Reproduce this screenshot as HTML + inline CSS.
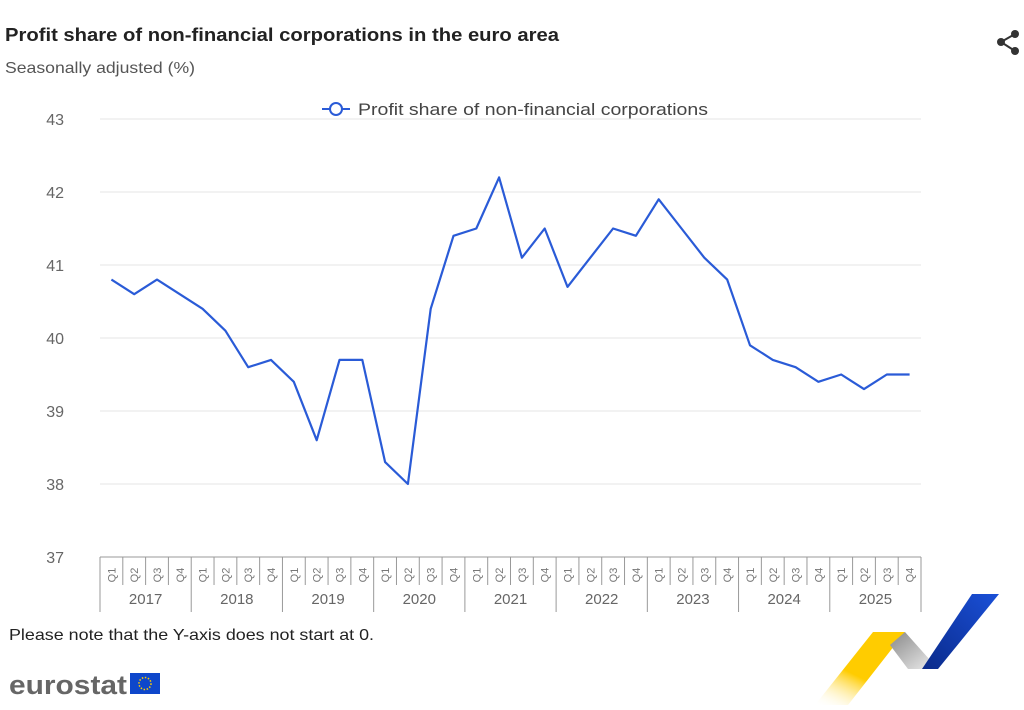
<!DOCTYPE html>
<html><head><meta charset="utf-8"><style>
body{margin:0;background:#fff;width:1024px;height:705px;overflow:hidden;font-family:"Liberation Sans",sans-serif}
</style></head><body>
<svg id="s" width="1024" height="705" xmlns="http://www.w3.org/2000/svg" font-family="Liberation Sans, sans-serif">
<defs>
<linearGradient id="gy" x1="0" y1="1" x2="0.6" y2="0"><stop offset="0" stop-color="#fff" stop-opacity="0"/><stop offset="0.5" stop-color="#ffcc00"/><stop offset="1" stop-color="#ffcc00"/></linearGradient>
<linearGradient id="gg" x1="0" y1="0" x2="1" y2="1"><stop offset="0" stop-color="#888"/><stop offset="1" stop-color="#f0f0f0"/></linearGradient>
<linearGradient id="gb" x1="0" y1="1" x2="1" y2="0"><stop offset="0" stop-color="#0a2a8a"/><stop offset="1" stop-color="#1a50d8"/></linearGradient>
</defs>
<text x="5" y="41" font-size="18" font-weight="bold" fill="#222" textLength="554" lengthAdjust="spacingAndGlyphs">Profit share of non-financial corporations in the euro area</text>
<text x="5" y="73" font-size="16" fill="#555" textLength="190" lengthAdjust="spacingAndGlyphs">Seasonally adjusted (%)</text>
<g fill="#333"><circle cx="1001" cy="42" r="4"/><circle cx="1015" cy="34" r="4"/><circle cx="1015" cy="51" r="4"/></g>
<path d="M1001 42L1015 34M1001 42L1015 51" stroke="#333" stroke-width="2"/>
<g id="grid"></g>
<line x1="322" y1="109" x2="350" y2="109" stroke="#2a5bd7" stroke-width="2"/>
<circle cx="336" cy="109" r="6" fill="#fff" stroke="#2a5bd7" stroke-width="2"/>
<text x="358" y="115" font-size="17" fill="#444" textLength="350" lengthAdjust="spacingAndGlyphs">Profit share of non-financial corporations</text>
<text x="9" y="640" font-size="16" fill="#222" textLength="365" lengthAdjust="spacingAndGlyphs">Please note that the Y-axis does not start at 0.</text>
<text x="9" y="694" font-size="27" font-weight="bold" fill="#666" textLength="118" lengthAdjust="spacingAndGlyphs">eurostat</text>
<rect x="130" y="673" width="30" height="21" fill="#0e47cb"/>
<circle cx="145" cy="683.5" r="6" fill="none" stroke="#ffcc00" stroke-width="1.5" stroke-dasharray="1.5 1.6"/>
<polygon points="815,705 873,632 905,632 848,705" fill="url(#gy)"/>
<polygon points="890,645 905,632 938,669 908,669" fill="url(#gg)"/>
<polygon points="922,669 972,594 999,594 938,669" fill="url(#gb)"/>
</svg>
<script>
var s=document.getElementById('grid'),h='';
for(var v=37;v<=43;v++){var y=557-(v-37)*73;
if(v>37)h+='<line x1="100" y1="'+y+'" x2="921" y2="'+y+'" stroke="#e6e6e6"/>';
h+='<text x="64" y="'+(y+6)+'" font-size="16" fill="#666" text-anchor="end">'+v+'</text>';}
h+='<line x1="100" y1="557" x2="921" y2="557" stroke="#999"/>';
var w=821/36;
for(var i=0;i<=36;i++){var x=100+i*w;var yr=i%4==0;
h+='<line x1="'+x+'" y1="557" x2="'+x+'" y2="'+(yr?612:585)+'" stroke="#999"/>';
if(i<36){var cx=x+w/2;h+='<text transform="translate('+(cx+4)+',575) rotate(-90)" font-size="11" fill="#777" text-anchor="middle">Q'+(i%4+1)+'</text>';}
if(i%4==0&&i<36)h+='<text x="'+(x+2*w)+'" y="604" font-size="15" fill="#666" text-anchor="middle">'+(2017+i/4)+'</text>';}
var d=[40.8,40.6,40.8,40.6,40.4,40.1,39.6,39.7,39.4,38.6,39.7,39.7,38.3,38.0,40.4,41.4,41.5,42.2,41.1,41.5,40.7,41.1,41.5,41.4,41.9,41.5,41.1,40.8,39.9,39.7,39.6,39.4,39.5,39.3,39.5,39.5];
var p=d.map(function(v,i){return (100+w/2+i*w).toFixed(1)+','+(557-(v-37)*73).toFixed(1)}).join(' ');
h+='<polyline points="'+p+'" fill="none" stroke="#2a5bd7" stroke-width="2.2" stroke-linejoin="round"/>';
s.innerHTML=h;
</script>
</body></html>
